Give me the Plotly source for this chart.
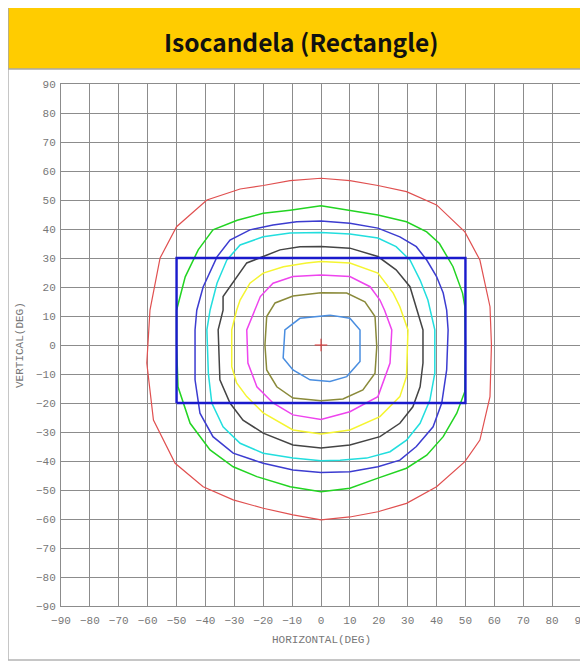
import plotly.graph_objects as go

# ---------------- data ----------------
tick_vals = list(range(-90, 91, 10))

rect_x = [-50, 50]
rect_y = [-20, 30]

red_x = [0, 10, 19.7, 29.6, 40, 49.8, 55, 58.5, 59, 58.5, 55, 49.8, 40, 29.6, 19.7, 10, 0,
         -9.7, -20, -30.4, -40.8, -50.5, -58, -60.3, -59.2, -55.7, -50, -39.5, -28, -20, -10.7, 0]
red_y = [57.5, 56.7, 55, 52.9, 48.3, 39, 29.3, 13.2, 0, -17.8, -32.8, -40.2, -48.9, -54.6, -57.5,
         -59.3, -60.3, -58.6, -56.3, -53.4, -48.9, -40.8, -25.9, -6.2, 12, 30, 40.8, 50, 53.8, 55, 56.7, 57.5]

green_x = [0, 10, 19.7, 29.6, 36.6, 41, 45.7, 49, 49.8, 50, 49.8, 47, 42.3, 36.6, 29.6, 19.7, 10, 0,
           -10.7, -22.2, -30.4, -38.4, -45.3, -49.5, -50, -50, -47, -42.5, -37.4, -29, -20, -10.7, 0]
green_y = [48, 46.5, 44.8, 42.5, 39, 35, 27, 17.9, 13.2, 0, -16, -23.5, -31.6, -38, -42.5, -45.9, -49.4,
           -50.6, -48.9, -45.4, -42, -36.2, -27, -14.4, 0, 12, 23.5, 32.8, 39.7, 43, 45.4, 46.5, 48]

blue_x = [0, 10, 19.7, 27.3, 33, 36.6, 40, 42.3, 43.5, 44, 43.5, 41.8, 38.8, 33, 27.3, 19.7, 10, 0,
          -9.7, -20, -30.4, -37.4, -41.9, -43.6, -43.6, -43, -40.8, -36, -31.5, -24.6, -16.6, -8.4, 0]
blue_y = [42.8, 42, 40.3, 37.3, 33.9, 29.3, 23.6, 17.9, 12, 5.2, -8.6, -20, -28.2, -35, -39.7, -42, -43.7,
          -44, -43.1, -40.8, -37.3, -31.6, -23.5, -12, 5.2, 12, 20, 30.4, 36.2, 39.7, 41.4, 42.5, 42.8]

cyan_x = [0, 10, 19.7, 26, 30.8, 34.3, 37, 39.4, 39.4, 37.7, 34.3, 29.6, 23.9, 15.8, 6.6, 0,
          -9.7, -20, -28, -33.9, -37.8, -39, -39.5, -38.4, -36, -32.6, -28, -20, -10.7, 0]
cyan_y = [38.8, 38.3, 36.9, 33.9, 29.3, 22.4, 15.5, 5.2, -9.7, -19, -27, -32.8, -36.8, -39, -39.7, -39.9,
          -39, -37.3, -33.9, -28.2, -20, -9.7, 5.2, 12, 21.3, 29.3, 34.5, 37.3, 38.6, 38.8]

black_x = [0, 10, 19.7, 26, 30.8, 33, 35.3, 35.3, 34.3, 31.8, 27.3, 20.4, 10, 0, -9.7, -20, -27,
           -31.5, -35, -35.6, -33.9, -33.9, -29.2, -25.7, -20, -14.2, -7.3, 0]
black_y = [34, 33.4, 30.5, 25.9, 20.1, 13.2, 5.2, -6.2, -14.4, -21.3, -27, -31.6, -34.5, -35.5, -34.5,
           -30.4, -25.9, -20, -12, 5.2, 12, 16.7, 23.6, 28.3, 30.5, 32.8, 33.9, 34]

yellow_x = [0, 10, 19.7, 25, 27.3, 30.1, 29.6, 27.3, 20.4, 10, 0, -9.7, -20, -25.7, -29.2, -30.9,
            -30.9, -29.2, -28, -24.6, -20, -13, -5, 0]
yellow_y = [28.8, 28.3, 24.8, 17.9, 13.2, 5.2, -10.9, -17.8, -24.7, -29.3, -30.7, -29.3, -23.4, -17.8,
            -13.1, -7.5, 5.2, 12, 15.5, 21.3, 24.8, 27, 28.3, 28.8]

magenta_x = [0, 10, 17, 20.4, 22, 24.5, 23.9, 19.7, 10, 0, -9.7, -16.6, -22.2, -25.3, -25.7, -22.8,
             -21, -16.6, -9.7, 0]
magenta_y = [24.1, 23.6, 20.1, 15.5, 12, 5.2, -6.2, -17.8, -23, -25.7, -24.1, -20, -14.4, -6.2, 5.2,
             12, 16.7, 21.3, 23.6, 24.1]

olive_x = [0, 8.9, 15.2, 18.7, 19.3, 18.7, 14.5, 7.6, 0, -9.7, -15.3, -18.8, -19.4, -18.8, -15.9, -9.7, 0]
olive_y = [18, 17.9, 14.9, 9.8, -0.6, -9.7, -15.5, -18.6, -19.2, -18.3, -14.4, -8.6, 0, 9.8, 14.5, 16.9, 18]

lightblue_x = [3.1, 10, 13.5, 13.5, 8.9, 3.1, -3.8, -9.7, -13.1, -12.5, -7.3, 3.1]
lightblue_y = [10.3, 9.2, 5.2, -5.7, -10.9, -12.6, -12, -8.6, -4.5, 5.2, 9.2, 10.3]

center_x = [0]
center_y = [0]

# ---------------- figure ----------------
OFF = 8  # page body margin
W, H = 588 - OFF, 662 - OFF
L, R, T = 61 - OFF, 7, 84 - OFF
B = H - (606 - OFF)
PW, PH = W - L - R, H - T - B


def px_x(px):
    return (px - OFF - L) / PW


def px_y(py):
    return (H - B - (py - OFF)) / PH


fig = go.Figure()

contours = [
    (red_x, red_y, "#e05050", 1.2),
    (green_x, green_y, "#22d422", 1.5),
    (blue_x, blue_y, "#3c3cd0", 1.5),
    (cyan_x, cyan_y, "#22dede", 1.5),
    (black_x, black_y, "#444444", 1.5),
    (yellow_x, yellow_y, "#f5f530", 1.5),
    (magenta_x, magenta_y, "#ee44ee", 1.5),
    (olive_x, olive_y, "#8a8a3a", 1.5),
    (lightblue_x, lightblue_y, "#4a8ee0", 1.5),
]
for xs, ys, col, w in contours:
    fig.add_trace(go.Scatter(x=xs, y=ys, mode="lines",
                             line=dict(color=col, width=w), hoverinfo="skip",
                             showlegend=False))

# target rectangle
fig.add_trace(go.Scatter(
    x=[rect_x[0], rect_x[1], rect_x[1], rect_x[0], rect_x[0]],
    y=[rect_y[0], rect_y[0], rect_y[1], rect_y[1], rect_y[0]],
    mode="lines", line=dict(color="#1a1acc", width=2.4), showlegend=False, hoverinfo="skip"))

# center marker
fig.add_trace(go.Scatter(x=center_x, y=center_y, mode="markers",
                         marker=dict(symbol="cross-thin", size=9,
                                     line=dict(color="#e03030", width=1)),
                         showlegend=False, hoverinfo="skip"))

axis_common = dict(
    range=[-90, 90], tickvals=tick_vals, showgrid=True, gridcolor="#8c8c8c", gridwidth=1,
    zeroline=False, showline=True, linecolor="#8c8c8c", linewidth=1, mirror=True,
    tickfont=dict(family="Liberation Mono", size=11, color="#777777"), ticks="",
    automargin=False,
)
fig.update_xaxes(**axis_common, ticklabelstandoff=4)
fig.update_yaxes(**axis_common, ticklabelstandoff=2)

shapes = [
    # outer frame
    dict(type="rect", xref="paper", yref="paper",
         x0=px_x(8), x1=px_x(600), y0=px_y(660), y1=px_y(0),
         line=dict(color="#b4b4b4", width=1.5), fillcolor="rgba(0,0,0,0)", layer="above"),
    # header
    dict(type="rect", xref="paper", yref="paper",
         x0=px_x(8), x1=px_x(600), y0=px_y(69), y1=px_y(0),
         line=dict(color="#a8a8a8", width=1.5), fillcolor="#FFCC00", layer="above"),
]

annotations = [
    dict(text="<b>Isocandela (Rectangle)</b>", xref="paper", yref="paper",
         x=px_x(301), y=px_y(42), showarrow=False, xanchor="center", yanchor="middle",
         font=dict(family="Noto Sans CJK KR", size=24.5, color="#111111")),
    dict(text="HORIZONTAL(DEG)", xref="paper", yref="paper",
         x=px_x(321), y=px_y(640), showarrow=False, xanchor="center", yanchor="middle",
         font=dict(family="Liberation Mono", size=11, color="#777777")),
    dict(text="VERTICAL(DEG)", xref="paper", yref="paper",
         x=px_x(20), y=px_y(345), showarrow=False, xanchor="center", yanchor="middle",
         textangle=-90, font=dict(family="Liberation Mono", size=11, color="#777777")),
]

fig.update_layout(
    width=W, height=H, margin=dict(l=L, r=R, t=T, b=B, pad=0, autoexpand=False),
    paper_bgcolor="white", plot_bgcolor="white",
    shapes=shapes, annotations=annotations, showlegend=False,
)

fig.write_html("out.html")
